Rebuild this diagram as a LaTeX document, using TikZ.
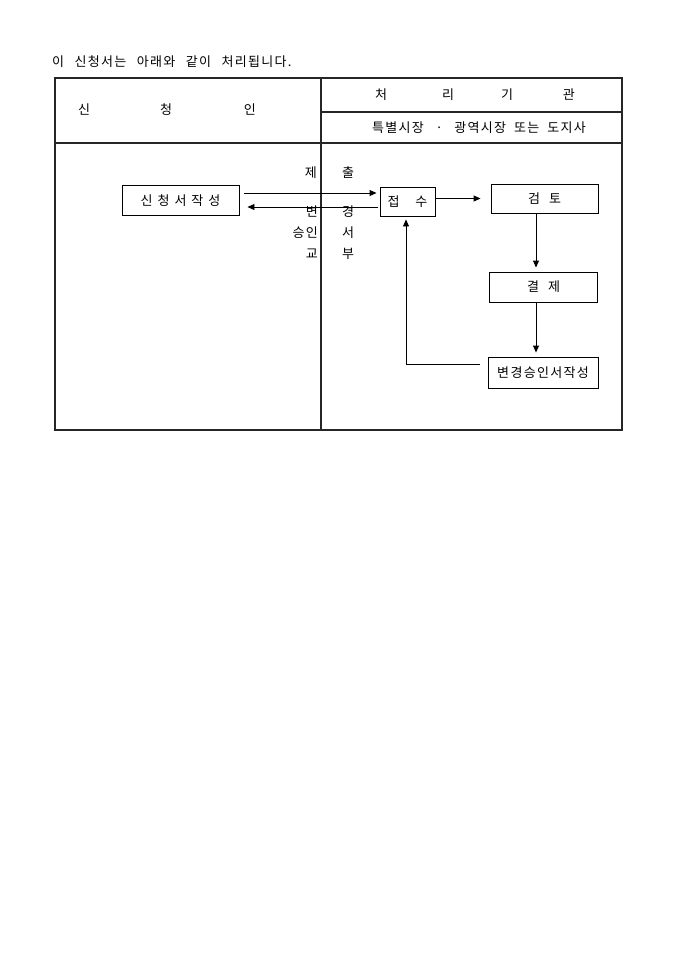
\documentclass[tikz,border=0pt]{standalone}
\usepackage{fontspec}
\setmainfont{Noto Sans CJK KR}[LetterSpace=10]
\usetikzlibrary{arrows.meta, positioning}

\begin{document}
\begin{tikzpicture}[x=1pt, y=-1pt, >={Triangle[length=7pt, width=6pt]},
        every node/.style={font=\fontsize{13}{15}\selectfont, inner sep=0pt, execute at begin node={\spaceskip=8pt\relax}},
        flowbox/.style={draw, line width=0.9pt, minimum height=30pt, align=center},
        link/.style={->, line width=0.9pt},
        grid/.style={line width=1.1pt, draw=black!85}]

        % Page
        \useasboundingbox (0,0) rectangle (680,962);

        % Title
        \node[anchor=west, execute at begin node={\spaceskip=10.5pt\relax}] (title) at (52, 62) {이 신청서는 아래와 같이 처리됩니다.};

        % Table
        \draw[grid] (55,78) rectangle (622,430);
        \draw[grid] (321,78) -- (321,430);
        \draw[grid] (55,143) -- (622,143);
        \draw[grid] (321,112) -- (622,112);

        % Headers
        \node (applicant) at (167,110) {신\hspace{70pt}청\hspace{72pt}인};
        \node (office) at (475,95) {처\hspace{55pt}리\hspace{47pt}기\hspace{50pt}관};
        \node (officesub) at (479,128) {특별시장 \;·\; 광역시장 또는 도지사};

        % Boxes
        \node[flowbox, minimum width=117pt] (apply) at (180.5,200.5) {신\hspace{5pt}청\hspace{5pt}서\hspace{5pt}작\hspace{5pt}성};
        \node[flowbox, minimum width=55pt, minimum height=29pt] (recv) at (407.5,201.5) {접\hspace{16pt}수};
        \node[flowbox, minimum width=107pt, minimum height=29pt] (review) at (544.5,198.5) {검\hspace{9pt}토};
        \node[flowbox, minimum width=108pt] (decide) at (543.5,287) {결\hspace{9pt}제};
        \node[flowbox, minimum width=110pt, minimum height=31pt] (issue) at (543,372.5) {변경승인서작성};

        % Labels
        \node[anchor=east] (lsubmit) at (317,173) {제};
        \node (rsubmit) at (348,173) {출};
        \node[anchor=east] (lchange) at (318,212) {변};
        \node (rchange) at (348,212) {경};
        \node[anchor=east] (lapprove) at (318,233) {승인};
        \node (rapprove) at (348,233) {서};
        \node[anchor=east] (ldeliver) at (318,254) {교};
        \node (rdeliver) at (348,254) {부};

        % Arrows
        \draw[link, shorten <=5pt, shorten >=3pt] ([yshift=7.5pt]apply.east) -- ([yshift=8.5pt]recv.west);
        \draw[link, shorten <=2pt, shorten >=8pt] ([yshift=-5.5pt]recv.west) -- ([yshift=-6.5pt]apply.east);
        \draw[link, shorten >=10pt] (recv.east |- review.west) -- (review.west);
        \draw[link, shorten >=4pt] ([xshift=-8.5pt]review.south) -- ([xshift=-7.5pt]decide.north);
        \draw[link, shorten >=4pt] ([xshift=-7.5pt]decide.south) -- ([xshift=-7pt]issue.north);
        \draw[link, shorten <=8pt, shorten >=3pt] ([yshift=8.5pt]issue.west) -| ([xshift=-1.5pt]recv.south);
    \end{tikzpicture}
\end{document}
